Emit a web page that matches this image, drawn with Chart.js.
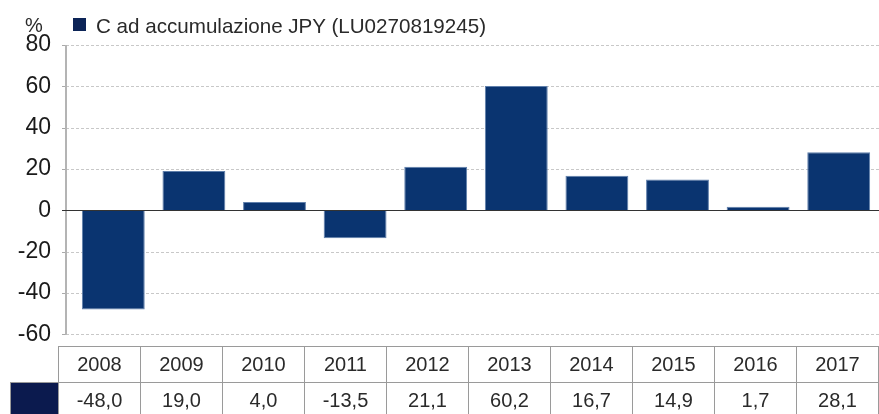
<!DOCTYPE html>
<html>
<head>
<meta charset="utf-8">
<script src="https://cdn.jsdelivr.net/npm/chart.js@4.4.1/dist/chart.umd.min.js"></script>
<style>
  body { margin: 0; background: #fff; }
  #wrap { position: relative; width: 879px; height: 414px; overflow: hidden; font-family: "Liberation Sans", Arial, sans-serif; color: #2a2a2a; }
  #chart { position: absolute; left: 0; top: 0; }
  #pct { position: absolute; left: 25px; top: 15px; font-size: 20px; line-height: 20px; }
  #legend { position: absolute; left: 73px; top: 15px; font-size: 20.6px; line-height: 21px; white-space: nowrap; }
  #legend .box { position: absolute; left: 0; top: 3px; width: 13px; height: 13px; background: #0c2457; }
  #legend .txt { position: absolute; left: 23px; top: 0; }
  #tbl { position: absolute; left: 10px; top: 346px; border-collapse: collapse; font-size: 20px; }
  #tbl td { border: 1.5px solid #9a9a9a; text-align: center; padding: 0; height: 35px; width: 81px; }
  #tbl td.corner { border: none; width: 47px; }
  #tbl td.swatch { background: #0b1a4e; width: 47px; }
</style>
</head>
<body>
<div id="wrap">
  <canvas id="chart" width="879" height="370"></canvas>
  <div id="pct">%</div>
  <div id="legend"><span class="box"></span><span class="txt" id="legendText"></span></div>
  <table id="tbl"><tr id="yearRow"><td class="corner"></td></tr><tr id="valRow"><td class="swatch"></td></tr></table>
</div>
<script>
const years = ['2008', '2009', '2010', '2011', '2012', '2013', '2014', '2015', '2016', '2017'];
const returns = [-48.0, 19.0, 4.0, -13.5, 21.1, 60.2, 16.7, 14.9, 1.7, 28.1];
const seriesName = 'C ad accumulazione JPY (LU0270819245)';
const yMin = -60, yMax = 80, yStep = 20;

const FONT = '"Liberation Sans", Arial, sans-serif';

document.getElementById('legendText').textContent = seriesName;

// table under the chart
const yearRow = document.getElementById('yearRow');
const valRow = document.getElementById('valRow');
years.forEach((yr, i) => {
  const th = document.createElement('td');
  th.textContent = yr;
  yearRow.appendChild(th);
  const td = document.createElement('td');
  td.textContent = returns[i].toFixed(1).replace('.', ',');
  valRow.appendChild(td);
});

// axis line, dashed grid, zero line (axis sits a few px left of the first bar slot)
const axisFrame = {
  id: 'axisFrame',
  beforeDatasetsDraw(chart) {
    const { ctx, chartArea: a, scales: { y } } = chart;
    const x0 = a.left - 7;
    ctx.save();
    ctx.lineWidth = 1;
    y.ticks.forEach(t => {
      const py = Math.round(y.getPixelForValue(t.value)) + 0.5;
      ctx.strokeStyle = '#aaaaaa';
      ctx.setLineDash([]);
      ctx.beginPath(); ctx.moveTo(x0 - 4, py); ctx.lineTo(x0, py); ctx.stroke();
      if (t.value === 0) return;
      ctx.strokeStyle = '#c8c8c8';
      ctx.setLineDash([3, 2]);
      ctx.beginPath(); ctx.moveTo(x0, py); ctx.lineTo(a.right, py); ctx.stroke();
    });
    ctx.setLineDash([]);
    ctx.strokeStyle = '#b4b4b4';
    ctx.lineWidth = 2;
    ctx.beginPath(); ctx.moveTo(x0, a.top); ctx.lineTo(x0, a.bottom + 0.5); ctx.stroke();
    ctx.restore();
  },
  afterDatasetsDraw(chart) {
    const { ctx, chartArea: a, scales: { y } } = chart;
    const py = Math.round(y.getPixelForValue(0)) + 0.5;
    ctx.save();
    ctx.strokeStyle = '#333333';
    ctx.lineWidth = 1.2;
    ctx.beginPath(); ctx.moveTo(a.left - 11, py); ctx.lineTo(a.right, py); ctx.stroke();
    ctx.restore();
  }
};

const chart = new Chart(document.getElementById('chart'), {
  type: 'bar',
  data: {
    labels: years,
    datasets: [{
      label: seriesName,
      data: returns,
      backgroundColor: '#0a3470',
      borderColor: '#5f7fab',
      borderWidth: 1,
      barPercentage: 0.78,
      categoryPercentage: 1
    }]
  },
  options: {
    responsive: false,
    animation: false,
    layout: { padding: { top: 45, bottom: 7, left: 0, right: 0 } },
    plugins: { legend: { display: false }, tooltip: { enabled: false } },
    scales: {
      x: { display: false },
      y: {
        min: yMin,
        max: yMax,
        ticks: { stepSize: yStep, padding: 22, color: '#1a1a1a', font: { family: FONT, size: 23 } },
        grid: { display: false, drawTicks: false },
        border: { display: false },
        afterFit(scale) { scale.width = 73; }
      }
    }
  },
  plugins: [axisFrame]
});
</script>
</body>
</html>
